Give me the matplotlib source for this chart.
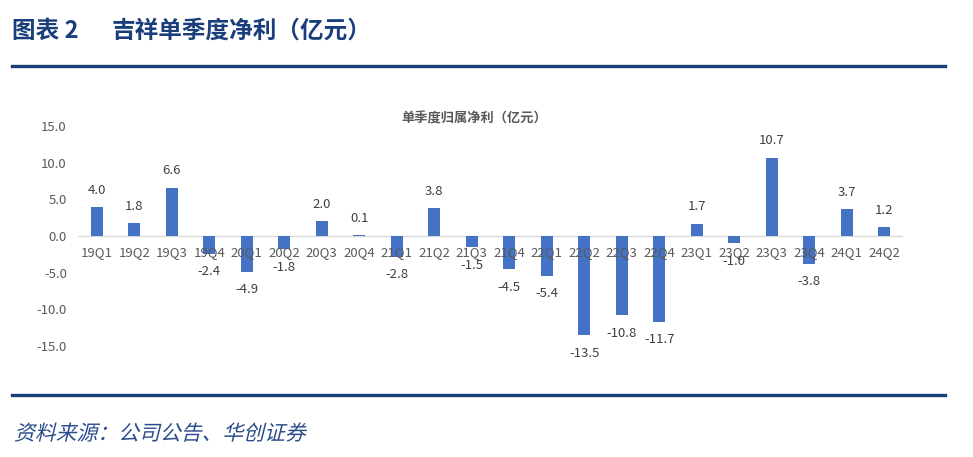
"""Quarterly net profit bar chart (Geely, 100m CNY)."""

import matplotlib

matplotlib.use("Agg")
import matplotlib.pyplot as plt
from matplotlib.font_manager import FontProperties
from matplotlib.lines import Line2D
from matplotlib.patches import PathPatch
from matplotlib.textpath import TextPath
from matplotlib.transforms import Affine2D
import numpy as np

plt.rcParams["font.family"] = ["Noto Sans CJK SC", "DejaVu Sans"]

quarters = [
    "19Q1", "19Q2", "19Q3", "19Q4", "20Q1", "20Q2", "20Q3", "20Q4",
    "21Q1", "21Q2", "21Q3", "21Q4", "22Q1", "22Q2", "22Q3", "22Q4",
    "23Q1", "23Q2", "23Q3", "23Q4", "24Q1", "24Q2",
]
net_profit = [
    4.0, 1.8, 6.6, -2.4, -4.9, -1.8, 2.0, 0.1,
    -2.8, 3.8, -1.5, -4.5, -5.4, -13.5, -10.8, -11.7,
    1.7, -1.0, 10.7, -3.8, 3.7, 1.2,
]
y_ticks = [15, 10, 5, 0, -5, -10, -15]

BAR_COLOR = "#4472C4"
TEXT_COLOR = "#404040"
TICK_COLOR = "#595959"
RULE_COLOR = "#1A3E7C"

W, H = 973, 457
DPI = 100
fig = plt.figure(figsize=(W / DPI, H / DPI), dpi=DPI)

# Header / footer
fig.text(12 / W, 1 - 31 / H, "图表 2", fontsize=17, fontweight="bold",
         color=RULE_COLOR, va="center", ha="left")
fig.text(112 / W, 1 - 31 / H, "吉祥单季度净利（亿元）", fontsize=17,
         fontweight="bold", color=RULE_COLOR, va="center", ha="left")
fig.add_artist(Line2D([12 / W, 945 / W], [1 - 66 / H] * 2, color=RULE_COLOR,
                      lw=2.4, transform=fig.transFigure))
fig.add_artist(Line2D([12 / W, 945 / W], [1 - 395 / H] * 2, color=RULE_COLOR,
                      lw=2.4, transform=fig.transFigure))

# Source line, slanted by hand since the CJK font has no italic face
src_path = TextPath((0, 0), "资料来源：公司公告、华创证券", size=15,
                    prop=FontProperties(family="Noto Sans CJK SC"))
src_tf = (Affine2D().scale(DPI / 72).skew_deg(14, 0)
          .translate(14, H - 440))
fig.add_artist(PathPatch(src_path, transform=src_tf, facecolor="#2B4C8C",
                         edgecolor="none"))

# Chart area
ax = fig.add_axes([78 / W, 1 - 346 / H, (903 - 78) / W, (346 - 126) / H])
x = np.arange(len(quarters))
ax.bar(x, net_profit, width=0.32, color=BAR_COLOR, zorder=2)
ax.axhline(0, color="#D9D9D9", lw=1.0, zorder=1)

ax.set_xlim(-0.5, len(quarters) - 0.5)
ax.set_ylim(-15, 15)
ax.set_yticks(y_ticks)
ax.set_yticklabels([f"{v:.1f}" for v in y_ticks], fontsize=9.5, color=TICK_COLOR)
ax.tick_params(axis="y", length=0, pad=8)
ax.set_xticks([])
for s in ax.spines.values():
    s.set_visible(False)

# Category labels just under the zero line
for xi, q in zip(x, quarters):
    ax.annotate(q, (xi, 0), xytext=(0, -12), textcoords="offset points",
                ha="center", va="center", fontsize=9.5, color=TICK_COLOR,
                zorder=3)

# Value labels
for xi, v in zip(x, net_profit):
    dy = 12 if v >= 0 else -13
    ax.annotate(f"{v:.1f}", (xi, v), xytext=(0, dy), textcoords="offset points",
                ha="center", va="center", fontsize=9.5, color=TEXT_COLOR)

ax.text(0.48, 1 + (126 - 118) / (346 - 126), "单季度归属净利（亿元）",
        transform=ax.transAxes, fontsize=9.5, fontweight="bold",
        color=TICK_COLOR, ha="center", va="center")

fig.savefig("out.png", dpi=DPI)
